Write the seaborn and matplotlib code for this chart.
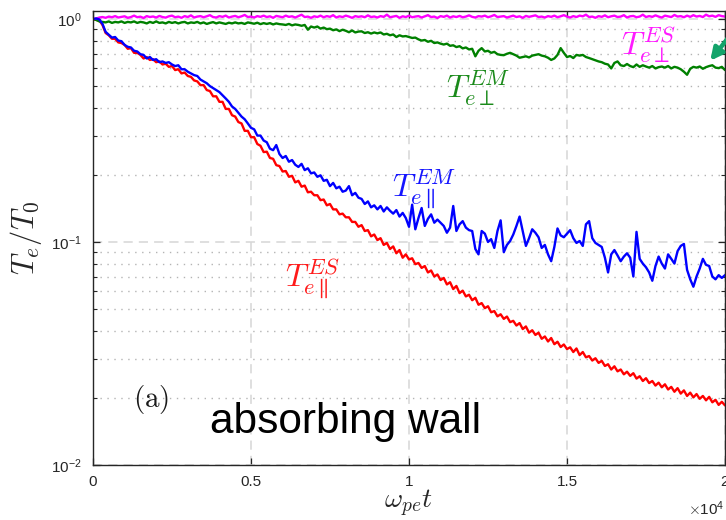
import numpy as np
import pandas as pd
import matplotlib
matplotlib.use("Agg")
import matplotlib.pyplot as plt
import seaborn as sns
from matplotlib.ticker import FixedLocator, FuncFormatter, LogLocator, NullFormatter, NullLocator

# Sample times (omega_pe t), one sample every 100
time = np.linspace(0, 20000, 201)

# Parallel electron temperature, electrostatic run
te_par_es = [
    1.00, 0.99, 0.985, 0.94, 0.865,
    0.845, 0.815, 0.815, 0.785, 0.78,
    0.765, 0.735, 0.74, 0.705, 0.705,
    0.69, 0.665, 0.675, 0.655, 0.66,
    0.64, 0.645, 0.625, 0.63, 0.61,
    0.615, 0.59, 0.595, 0.57, 0.575,
    0.555, 0.55, 0.53, 0.525, 0.505,
    0.505, 0.48, 0.475, 0.45, 0.45,
    0.425, 0.425, 0.395, 0.395, 0.37,
    0.365, 0.345, 0.34, 0.315, 0.315,
    0.295, 0.295, 0.275, 0.27, 0.253,
    0.254, 0.238, 0.236, 0.221, 0.219,
    0.207, 0.208, 0.196, 0.198, 0.185,
    0.188, 0.177, 0.179, 0.167, 0.168,
    0.162, 0.162, 0.154, 0.155, 0.146,
    0.148, 0.140, 0.140, 0.133, 0.134,
    0.129, 0.129, 0.123, 0.123, 0.117,
    0.119, 0.112, 0.113, 0.106, 0.108,
    0.102, 0.104, 0.097, 0.099, 0.093,
    0.0955, 0.089, 0.092, 0.085, 0.088,
    0.0835, 0.0845, 0.0795, 0.0805, 0.0765,
    0.078, 0.073, 0.0745, 0.070, 0.0715,
    0.0675, 0.069, 0.0645, 0.066, 0.0615,
    0.0635, 0.059, 0.0605, 0.057, 0.058,
    0.0548, 0.0562, 0.0523, 0.0532, 0.0505,
    0.0515, 0.0484, 0.049, 0.0464, 0.0474,
    0.0452, 0.0463, 0.0437, 0.0443, 0.0422,
    0.0433, 0.0407, 0.0418, 0.0392, 0.0402,
    0.0383, 0.0392, 0.0368, 0.0377, 0.0358,
    0.0371, 0.0348, 0.0357, 0.0338, 0.0347,
    0.0331, 0.0337, 0.0321, 0.0333, 0.0311,
    0.0321, 0.0304, 0.0308, 0.0294, 0.0301,
    0.0287, 0.0293, 0.0278, 0.0283, 0.0268,
    0.0277, 0.0263, 0.0268, 0.0255, 0.0262,
    0.0251, 0.0258, 0.0244, 0.0250, 0.0238,
    0.0245, 0.0233, 0.0238, 0.0227, 0.0234,
    0.0223, 0.0230, 0.0218, 0.0224, 0.0213,
    0.0221, 0.0209, 0.0216, 0.0204, 0.0211,
    0.0201, 0.0208, 0.0198, 0.0204, 0.0195,
    0.0202, 0.0191, 0.0196, 0.0186, 0.0192,
    0.0185,
]

# Parallel electron temperature, electromagnetic run
te_par_em = [
    1.00, 1.005, 0.995, 0.95, 0.875,
    0.85, 0.825, 0.83, 0.80, 0.795,
    0.765, 0.75, 0.745, 0.72, 0.715,
    0.695, 0.69, 0.665, 0.675, 0.655,
    0.66, 0.64, 0.645, 0.635, 0.64,
    0.625, 0.615, 0.62, 0.595, 0.595,
    0.58, 0.57, 0.56, 0.555, 0.535,
    0.525, 0.515, 0.50, 0.49, 0.48,
    0.47, 0.455, 0.44, 0.425, 0.405,
    0.395, 0.38, 0.365, 0.355, 0.34,
    0.325, 0.32, 0.30, 0.30, 0.285,
    0.28, 0.262, 0.258, 0.272, 0.248,
    0.238, 0.243, 0.229, 0.233, 0.222,
    0.217, 0.224, 0.21, 0.214, 0.203,
    0.205, 0.196, 0.199, 0.188, 0.19,
    0.178, 0.184, 0.174, 0.177, 0.168,
    0.17, 0.178, 0.162, 0.166, 0.158,
    0.156, 0.148, 0.152, 0.143, 0.146,
    0.14, 0.145, 0.137, 0.143, 0.138,
    0.134, 0.139, 0.13, 0.135, 0.128,
    0.117, 0.147, 0.114, 0.128, 0.142,
    0.118, 0.127, 0.133, 0.122, 0.126,
    0.122, 0.118, 0.11, 0.116, 0.145,
    0.112, 0.12, 0.124, 0.116, 0.113,
    0.112, 0.093, 0.088, 0.112, 0.109,
    0.1, 0.103, 0.094, 0.112, 0.125,
    0.09, 0.097, 0.101, 0.108, 0.118,
    0.13, 0.112, 0.096, 0.104, 0.114,
    0.11, 0.105, 0.094, 0.097, 0.088,
    0.082, 0.095, 0.115, 0.107, 0.105,
    0.109, 0.113, 0.104, 0.099, 0.101,
    0.096, 0.12, 0.124, 0.104, 0.099,
    0.097, 0.095, 0.085, 0.073, 0.088,
    0.092, 0.087, 0.082, 0.086, 0.089,
    0.085, 0.07, 0.111, 0.084, 0.08,
    0.077, 0.073, 0.067, 0.078, 0.086,
    0.08, 0.076, 0.088, 0.084, 0.08,
    0.091, 0.096, 0.098, 0.075, 0.068,
    0.063, 0.07, 0.076, 0.084, 0.079,
    0.078, 0.07, 0.068, 0.071, 0.069,
    0.071,
]

# Perpendicular electron temperature, electromagnetic run
te_perp_em = [
    1.0, 0.99, 0.975, 0.97, 0.965,
    0.975, 0.96, 0.97, 0.965, 0.975,
    0.96, 0.97, 0.965, 0.975, 0.96,
    0.97, 0.965, 0.955, 0.97, 0.96,
    0.975, 0.96, 0.965, 0.955, 0.97,
    0.96, 0.968, 0.955, 0.965, 0.97,
    0.955, 0.965, 0.96, 0.97, 0.955,
    0.965, 0.95, 0.96, 0.968, 0.955,
    0.965, 0.958, 0.95, 0.962, 0.955,
    0.965, 0.955, 0.96, 0.95, 0.965,
    0.958, 0.952, 0.962, 0.948, 0.958,
    0.95, 0.958, 0.945, 0.955, 0.948,
    0.945, 0.94, 0.95, 0.936, 0.945,
    0.94, 0.932, 0.94, 0.895, 0.925,
    0.915, 0.925, 0.905, 0.915, 0.9,
    0.905, 0.89, 0.898, 0.882, 0.895,
    0.885, 0.872, 0.888, 0.87, 0.878,
    0.88, 0.865, 0.872, 0.86, 0.87,
    0.862, 0.87, 0.852, 0.858, 0.845,
    0.852, 0.83, 0.845, 0.835, 0.838,
    0.83, 0.822, 0.825, 0.81, 0.80,
    0.805, 0.79, 0.798, 0.78, 0.785,
    0.775, 0.768, 0.775, 0.758, 0.762,
    0.748, 0.755, 0.738, 0.745, 0.73,
    0.735, 0.68, 0.72, 0.74, 0.715,
    0.72, 0.705, 0.712, 0.695, 0.69,
    0.688, 0.698, 0.705, 0.695, 0.685,
    0.67, 0.675, 0.68, 0.672, 0.685,
    0.69, 0.695, 0.685, 0.68, 0.67,
    0.655, 0.665, 0.69, 0.74, 0.705,
    0.675, 0.682, 0.668, 0.69, 0.685,
    0.69, 0.675, 0.668, 0.66, 0.652,
    0.645, 0.64, 0.63, 0.625, 0.60,
    0.635, 0.645, 0.62, 0.615, 0.628,
    0.615, 0.608, 0.625, 0.61, 0.62,
    0.612, 0.605, 0.615, 0.6, 0.608,
    0.612, 0.605, 0.615, 0.6, 0.61,
    0.605, 0.595, 0.58, 0.562, 0.598,
    0.61, 0.605, 0.612, 0.598, 0.608,
    0.615, 0.62, 0.605, 0.602, 0.61,
    0.59,
]

# Perpendicular electron temperature, electrostatic run
te_perp_es = [
    1.0, 1.005, 1.015, 1.02, 1.012,
    1.025, 1.018, 1.03, 1.015, 1.022,
    1.028, 1.012, 1.02, 1.035, 1.018,
    1.024, 1.01, 1.03, 1.02, 1.026,
    1.015, 1.032, 1.02, 1.014, 1.028,
    1.035, 1.018, 1.025, 1.012, 1.03,
    1.02, 1.038, 1.015, 1.025, 1.03,
    1.018, 1.028, 1.04, 1.02, 1.015,
    1.03, 1.022, 1.035, 1.015, 1.025,
    1.032, 1.018, 1.028, 1.042, 1.02,
    1.025, 1.015, 1.03, 1.022, 1.035,
    1.02, 1.028, 1.012, 1.032, 1.025,
    1.018, 1.035, 1.022, 1.028, 1.015,
    1.03, 1.045, 1.02, 1.025, 1.012,
    1.028, 1.02, 1.035, 1.018, 1.03,
    1.022, 1.04, 1.015, 1.028, 1.02,
    1.035, 1.025, 1.012, 1.03, 1.022,
    1.028, 1.018, 1.038, 1.02, 1.026,
    1.015, 1.03, 1.022, 1.045, 1.018,
    1.025, 1.032, 1.012, 1.028, 1.02,
    1.035, 1.018, 1.025, 1.03, 1.015,
    1.028, 1.04, 1.02, 1.025, 1.01,
    1.03, 1.022, 1.035, 1.015, 1.028,
    1.02, 1.032, 1.018, 1.025, 1.038,
    1.022, 1.015, 1.03, 1.025, 1.035,
    1.018, 1.028, 1.042, 1.02, 1.025,
    1.03, 1.015, 1.025, 1.035, 1.02,
    1.028, 1.012, 1.032, 1.022, 1.03,
    1.038, 1.02, 1.025, 1.015, 1.03,
    1.022, 1.035, 1.018, 1.028, 1.04,
    1.025, 1.015, 1.03, 1.02, 1.035,
    1.028, 1.045, 1.02, 1.025, 1.012,
    1.03, 1.022, 1.038, 1.018, 1.028,
    1.035, 1.02, 1.025, 1.04, 1.015,
    1.028, 1.032, 1.018, 1.025, 1.045,
    1.02, 1.03, 1.022, 1.038, 1.025,
    1.015, 1.035, 1.028, 1.02, 1.042,
    1.025, 1.03, 1.018, 1.035, 1.022,
    1.04, 1.025, 1.032, 1.02, 1.045,
    1.028, 1.035, 1.022, 1.04, 1.03,
    1.025,
]

series_names = ["par_es", "perp_em", "perp_es", "par_em"]
series_colors = {"par_es": "#ff0000", "perp_em": "#008000",
                 "perp_es": "#ff00ff", "par_em": "#0000ff"}
x_tick_values = [0, 5000, 10000, 15000, 20000]

df = pd.concat([
    pd.DataFrame({"t": time, "T": te_par_es, "series": "par_es"}),
    pd.DataFrame({"t": time, "T": te_perp_em, "series": "perp_em"}),
    pd.DataFrame({"t": time, "T": te_perp_es, "series": "perp_es"}),
    pd.DataFrame({"t": time, "T": te_par_em, "series": "par_em"}),
], ignore_index=True)

sns.set_theme(style="ticks")
plt.rcParams["font.family"] = ["Liberation Sans", "DejaVu Sans"]
plt.rcParams["mathtext.fontset"] = "cm"

fig = plt.figure(figsize=(7.26, 5.2), dpi=100)
ax = fig.add_axes([0.1281, 0.1058, 0.8705, 0.8731])

sns.lineplot(data=df, x="t", y="T", hue="series", hue_order=series_names,
             palette=series_colors, estimator=None, sort=False,
             linewidth=1.7, legend=False, ax=ax)

ax.set_yscale("log")
ax.set_xlim(0, 20000)
ax.set_ylim(0.01, 1.086)

ax.xaxis.set_major_locator(FixedLocator(x_tick_values))
ax.xaxis.set_major_formatter(FuncFormatter(lambda v, p: f"{v / 1e4:g}"))
ax.xaxis.set_minor_locator(NullLocator())
ax.yaxis.set_major_locator(LogLocator(base=10))
ax.yaxis.set_minor_locator(LogLocator(base=10, subs=np.arange(2, 10)))
ax.yaxis.set_minor_formatter(NullFormatter())

ax.set_axisbelow(True)
ax.grid(which="major", axis="both", linestyle=(0, (6, 4)), color="#d6d6d6", linewidth=1.1)
ax.grid(which="minor", axis="y", linestyle=(0, (1, 4)), color="#b4b4b4", linewidth=1.0)

for sp in ax.spines.values():
    sp.set_color("#262626")
    sp.set_linewidth(1.0)
ax.tick_params(which="both", direction="in", top=True, right=True,
               color="#262626", labelcolor="#262626", labelsize=11)
ax.tick_params(which="major", length=5, width=0.9)
ax.tick_params(which="minor", length=3, width=0.8)
ax.tick_params(axis="x", pad=7)
ax.tick_params(axis="y", pad=8)

ax.set_xlabel(r"$\omega_{pe}t$", fontsize=20, color="#262626")
ax.set_ylabel(r"$T_e/T_0$", fontsize=22, color="#262626")
ax.xaxis.set_label_coords(0.5, -0.05)
ax.yaxis.set_label_coords(-0.078, 0.5)

ax.text(1.0, -0.075, r"$\times\mathdefault{10^{4}}$", transform=ax.transAxes,
        ha="right", va="top", fontsize=11, color="#262626")

# Curve labels
ax.text(11160, 0.442, r"$T_{e\perp}^{EM}$", color="#1a8a1a", fontsize=23, va="baseline")
ax.text(9477, 0.159, r"$T_{e\parallel}^{EM}$", color="#1515ff", fontsize=23, va="baseline")
ax.text(6080, 0.0628, r"$T_{e\parallel}^{ES}$", color="#ff1a1a", fontsize=23, va="baseline")
ax.text(16716, 0.69, r"$T_{e\perp}^{ES}$", color="#ff1aff", fontsize=23, va="baseline")

ax.annotate("", xy=(19480, 0.635), xytext=(20150, 0.84),
            arrowprops=dict(arrowstyle="-|>", color="#14a36a", lw=3.2, mutation_scale=18),
            annotation_clip=False)

ax.text(0.063, 0.128, r"$\mathrm{(a)}$", transform=ax.transAxes, fontsize=21,
        va="baseline", color="#1a1a1a")
ax.text(0.185, 0.0705, "absorbing wall", transform=ax.transAxes, fontsize=30.5,
        va="baseline", color="black")

fig.savefig("out.png", dpi=100)
